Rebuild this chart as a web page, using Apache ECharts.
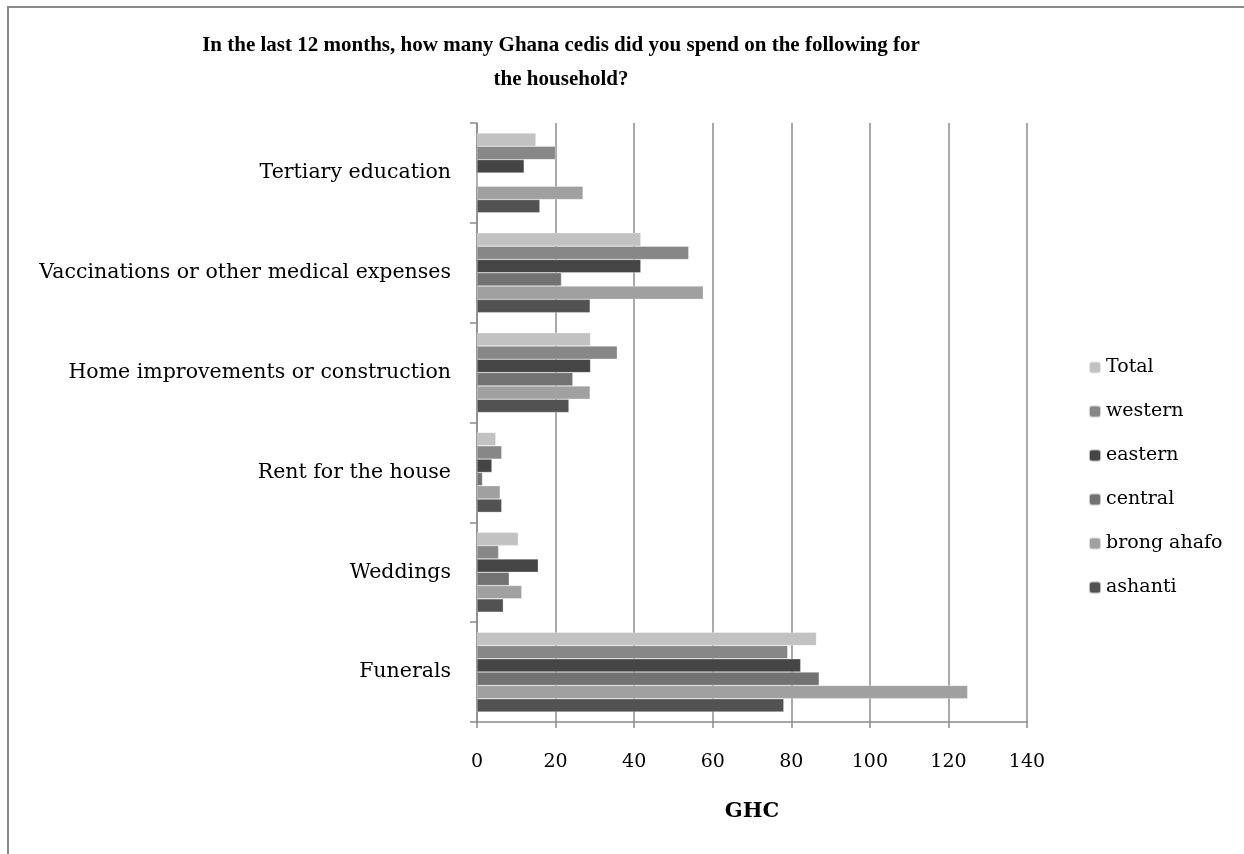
<!DOCTYPE html>
<html style="height: 100%">
<head>
    <meta charset="utf-8">
    <title>ECharts</title>
    <script src="https://cdn.jsdelivr.net/npm/echarts@6/dist/echarts.min.js"></script>
</head>
<body style="height: 100%; margin: 0; background: #fff">
<div id="main" style="width: 1244px; height: 854px"></div>

<script type="text/javascript">
    // categories, bottom to top
    var categories = ['Funerals', 'Weddings', 'Rent for the house',
        'Home improvements or construction', 'Vaccinations or other medical expenses', 'Tertiary education'];

    // series values, same order as categories
    var total = [86.4, 10.5, 4.8, 28.9, 41.7, 15];
    var western = [79.1, 5.5, 6.3, 35.7, 53.9, 20];
    var eastern = [82.4, 15.6, 3.8, 28.9, 41.7, 12];
    var central = [87.1, 8.2, 1.4, 24.4, 21.5, 0];
    var brongAhafo = [124.9, 11.4, 5.9, 28.8, 57.6, 27];
    var ashanti = [78.1, 6.7, 6.3, 23.4, 28.8, 16];

    var serifFont = '"DejaVu Serif", "Liberation Serif", serif';
    var gridGray = '#8c8c8c';

    var myChart = echarts.init(document.getElementById('main'));

    function bar(name, data, color) {
        return {
            name: name,
            type: 'bar',
            data: data,
            barGap: '0%',
            barCategoryGap: '20%',
            itemStyle: {color: color, borderColor: 'rgba(255,255,255,0.6)', borderWidth: 0.5},
            emphasis: {disabled: true}
        };
    }

    var option = {
        backgroundColor: '#fff',
        animation: false,
        title: {
            text: 'In the last 12 months, how many Ghana cedis did you spend on the following for\nthe household?',
            left: 556,
            textAlign: 'center',
            top: 24,
            textStyle: {
                fontFamily: '"Liberation Serif", serif',
                fontWeight: 'bold',
                fontSize: 21,
                lineHeight: 34,
                color: '#000'
            }
        },
        legend: {
            orient: 'vertical',
            left: 1088,
            top: 358,
            padding: 0,
            itemWidth: 12,
            itemHeight: 12,
            itemGap: 25,
            textStyle: {fontFamily: serifFont, fontSize: 19, color: '#000'}
        },
        graphic: [{
            type: 'rect',
            shape: {x: 8, y: 7, width: 1260, height: 900},
            style: {fill: 'none', stroke: '#8a8a8a', lineWidth: 2},
            silent: true
        }],
        grid: {left: 477, right: 217, top: 123, bottom: 132},
        xAxis: {
            type: 'value',
            min: 0,
            max: 140,
            interval: 20,
            name: 'GHC',
            nameLocation: 'middle',
            nameGap: 79,
            nameTextStyle: {fontFamily: serifFont, fontWeight: 'bold', fontSize: 21, color: '#000'},
            axisLine: {show: true, lineStyle: {color: gridGray, width: 1.5}},
            axisTick: {show: true, length: 6, lineStyle: {color: gridGray, width: 1.5}},
            axisLabel: {fontFamily: serifFont, fontSize: 19, color: '#000', margin: 31},
            splitLine: {show: true, lineStyle: {color: gridGray, width: 1.5}}
        },
        yAxis: {
            type: 'category',
            data: categories,
            axisLine: {show: true, lineStyle: {color: gridGray, width: 1.5}},
            axisTick: {show: true, length: 7, lineStyle: {color: gridGray, width: 1.5}},
            axisLabel: {fontFamily: serifFont, fontSize: 20.5, color: '#000', margin: 26}
        },
        series: [
            bar('Total', total, '#c2c2c2'),
            bar('western', western, '#878787'),
            bar('eastern', eastern, '#454545'),
            bar('central', central, '#727272'),
            bar('brong ahafo', brongAhafo, '#a0a0a0'),
            bar('ashanti', ashanti, '#525252')
        ]
    };
    myChart.setOption(option, true);
</script>
</body>
</html>
